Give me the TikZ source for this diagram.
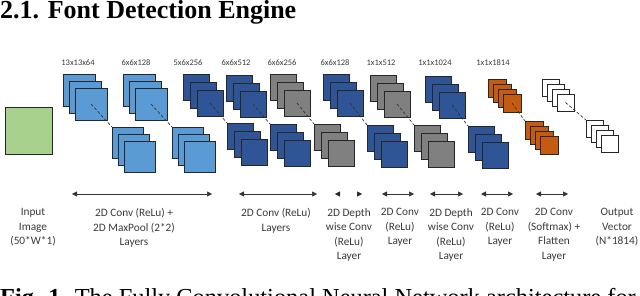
\documentclass[tikz,border=0pt]{standalone}
\usepackage{fontspec}
\setmainfont{Liberation Serif}
\newfontfamily\labfont{Carlito}
\usetikzlibrary{arrows.meta,shadows}
\usepackage{xcolor}
\definecolor{inputgreen}{HTML}{A9D18E}
\definecolor{lightblue}{HTML}{5B9BD5}
\definecolor{darkblue}{HTML}{2F5597}
\definecolor{midgray}{HTML}{808080}
\definecolor{burnt}{HTML}{C55A11}
\definecolor{labgray}{HTML}{3A3A3A}

\begin{document}
\begin{tikzpicture}[x=1pt, y=-1pt,
      fmap/.style={
        draw=black!85, line width=0.8pt, inner sep=0pt, outer sep=0pt,
        anchor=north west,
        drop shadow={shadow xshift=1pt, shadow yshift=-1pt, opacity=0.35}
      },
      dimlab/.style={font=\labfont\fontsize{8.5}{10}\selectfont, text=labgray},
      steplab/.style={
        anchor=north, align=center, text=labgray,
        font=\labfont\fontsize{11.3}{14.5}\selectfont
      },
      link/.style={draw=black!80, line width=0.7pt, dash pattern=on 3pt off 2pt},
      span/.style={{Triangle[length=5pt,width=5pt]}-{Triangle[length=5pt,width=5pt]},
        line width=0.5pt, draw=black!80},
      bare/.style={{Triangle[length=5pt,width=5pt,color=black!85]}-{Triangle[length=5pt,width=5pt,color=black!85]},
        line width=0.5pt, draw=white}
    ]
    \useasboundingbox (0,0) rectangle (640,296);

    % heading and caption
    \node[anchor=base west, inner sep=0pt, font=\fontsize{26}{30}\selectfont\bfseries] (head) at (0,19) {2.1. Font Detection Engine};
    \node[anchor=base west, inner sep=0pt, font=\fontsize{24.4}{30}\selectfont] (caption) at (0,306) {\textbf{Fig. 1.} The Fully Convolutional Neural Network architecture for};

    % input image
    \node[fmap, fill=inputgreen, minimum size=47pt] (input) at (5,107) {};

    % feature map stacks: top row and the one below it
    \foreach \nm/\x/\y/\s/\dx/\dy/\n/\col in {
        t1/63/74/32/6/7/3/lightblue,   b1/112/127/31/6/7/3/lightblue,
        t2/123/74/32/6/7/3/lightblue,  b2/172/127/31/6/7/3/lightblue,
        t3/183/74/26/7/8/3/darkblue,   b3/227/123/26/7/8/3/darkblue,
        t4/226/75/26/7/8/3/darkblue,   b4/270/124/26/7/8/3/darkblue,
        t5/270/74/26/7/8/3/midgray,    b5/314/124/26/7/8/3/midgray,
        t6/323/74/26/7/8/3/darkblue,   b6/367/125/26/7/8/3/darkblue,
        t7/370/75/26/7/8/3/midgray,    b7/414/125/26/7/8/3/midgray,
        t8/425/76/26/7/8/3/darkblue,   b8/468/126/26/7/8/3/darkblue,
        t9/488/79/18/5/5/4/burnt,      b9/525/121/18/5/5/4/burnt,
        t10/542/79/17/5/5/4/white,     b10/586/120/17/5/5/4/white}
    {
      \foreach \i in {1,...,\n}
        \node[fmap, fill=\col, minimum size=\s*1pt] (\nm-\i) at ({\x+(\i-1)*\dx},{\y+(\i-1)*\dy}) {};
    }

    % dashed links from each top stack down to its pair
    \foreach \k/\m in {1/3,2/3,3/3,4/3,5/3,6/3,7/3,8/3,9/4,10/4}
      \draw[link] (t\k-\m.center) -- (b\k-1.north west);

    % sizes
    \node[dimlab] (d1) at (78,63) {13x13x64};
    \node[dimlab] (d2) at (136,63) {6x6x128};
    \node[dimlab] (d3) at (188,63) {5x6x256};
    \node[dimlab] (d4) at (236,63) {6x6x512};
    \node[dimlab] (d5) at (282,63) {6x6x256};
    \node[dimlab] (d6) at (335,63) {6x6x128};
    \node[dimlab] (d7) at (381,63) {1x1x512};
    \node[dimlab] (d8) at (435,63) {1x1x1024};
    \node[dimlab] (d9) at (493,63) {1x1x1814};

    % extent arrows
    \coordinate (s1l) at (72,194);  \coordinate (s1r) at (212,194);
    \coordinate (s2l) at (239,194); \coordinate (s2r) at (317,194);
    \coordinate (s3l) at (335,194); \coordinate (s3r) at (362,194);
    \coordinate (s4l) at (382,194); \coordinate (s4r) at (414,194);
    \coordinate (s5l) at (430,194); \coordinate (s5r) at (463,194);
    \coordinate (s6l) at (481,194); \coordinate (s6r) at (513,194);
    \coordinate (s7l) at (536,194); \coordinate (s7r) at (568,194);
    \draw[span] (s1l) -- (s1r);
    \draw[span] (s2l) -- (s2r);
    \draw[bare] (s3l) -- (s3r);
    \draw[span] (s4l) -- (s4r);
    \draw[span] (s5l) -- (s5r);
    \draw[span] (s6l) -- (s6r);
    \draw[span] (s7l) -- (s7r);

    % step labels
    \node[steplab] (inlab) at (33,205) {Input\\Image\\(50*W*1)};
    \node[steplab] (poollab) at (134,205) {2D Conv (ReLu) +\\2D MaxPool (2*2)\\Layers};
    \node[steplab] (convlab) at (276,205) {2D Conv (ReLu)\\Layers};
    \node[steplab] (dwlab1) at (349,205) {2D Depth\\wise Conv\\(ReLu)\\Layer};
    \node[steplab] (convlab1) at (400,205) {2D Conv\\(ReLu)\\Layer};
    \node[steplab] (dwlab2) at (451,205) {2D Depth\\wise Conv\\(ReLu)\\Layer};
    \node[steplab] (convlab2) at (500,205) {2D Conv\\(ReLu)\\Layer};
    \node[steplab] (softlab) at (554,205) {2D Conv\\(Softmax) +\\Flatten\\Layer};
    \node[steplab] (outlab) at (617,205) {Output\\Vector\\(N*1814)};
  \end{tikzpicture}
\end{document}
